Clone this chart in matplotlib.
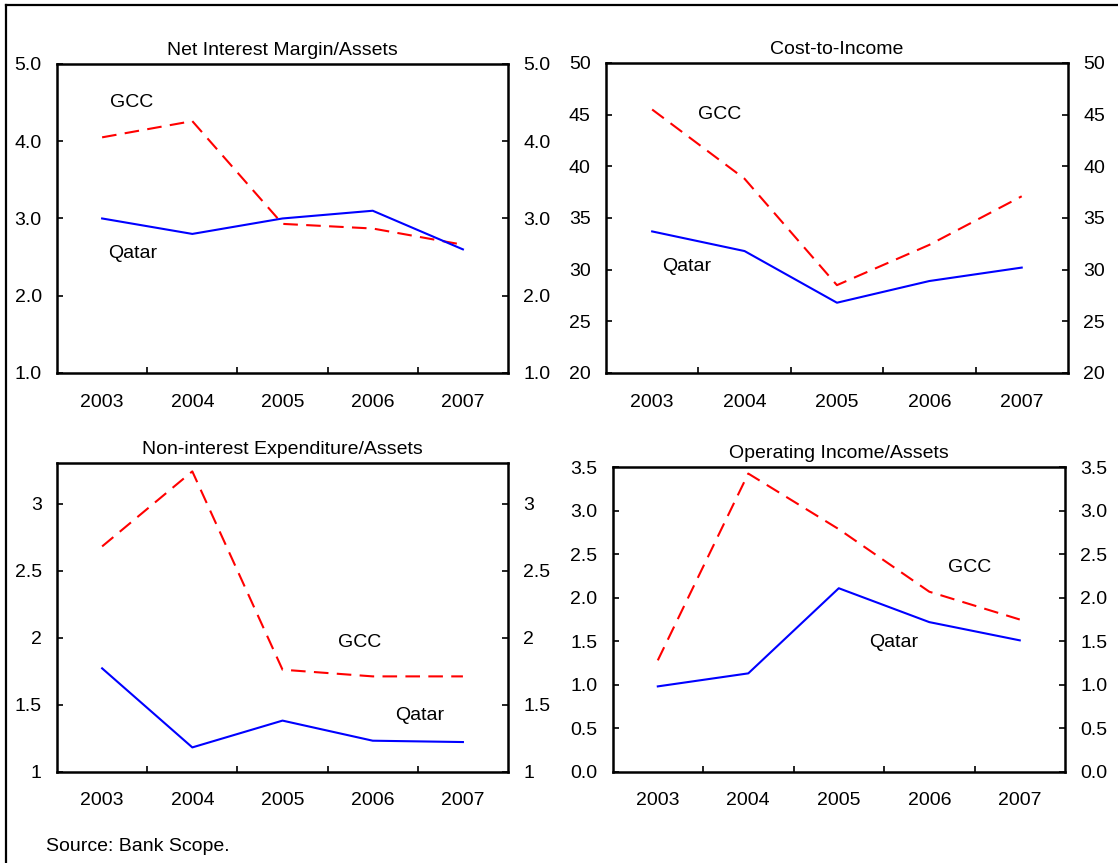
import numpy as np
import matplotlib
matplotlib.use("Agg")
import matplotlib.pyplot as plt
from matplotlib.lines import Line2D

plt.rcParams["font.family"] = ["Liberation Sans", "DejaVu Sans"]
plt.rcParams["font.size"] = 14

years = ["2003", "2004", "2005", "2006", "2007"]

# Net interest margin / assets
nim_gcc = [4.05, 4.26, 2.93, 2.87, 2.66]
nim_qatar = [3.0, 2.8, 3.0, 3.1, 2.6]

# Cost-to-income
cti_gcc = [45.5, 38.8, 28.5, 32.4, 37.1]
cti_qatar = [33.7, 31.8, 26.8, 28.9, 30.2]

# Non-interest expenditure / assets
nie_gcc = [2.68, 3.24, 1.76, 1.71, 1.71]
nie_qatar = [1.77, 1.18, 1.38, 1.23, 1.22]

# Operating income / assets
oi_gcc = [1.28, 3.43, 2.79, 2.07, 1.75]
oi_qatar = [0.98, 1.13, 2.11, 1.72, 1.51]

panels = [
    dict(title="Net Interest Margin/Assets", gcc=nim_gcc, qatar=nim_qatar,
         ylim=(1.0, 5.0), yticks=[1.0, 2.0, 3.0, 4.0, 5.0], fmt="{:.1f}",
         gcc_pos=(0.33, 4.50), qatar_pos=(0.34, 2.55),
         rect=[0.0510, 0.5678, 0.4034, 0.3581]),
    dict(title="Cost-to-Income", gcc=cti_gcc, qatar=cti_qatar,
         ylim=(20, 50), yticks=[20, 25, 30, 35, 40, 45, 50], fmt="{:.0f}",
         gcc_pos=(0.73, 45.0), qatar_pos=(0.37, 30.3),
         rect=[0.5420, 0.5678, 0.4132, 0.3592]),
    dict(title="Non-interest Expenditure/Assets", gcc=nie_gcc, qatar=nie_qatar,
         ylim=(1.0, 3.3), yticks=[1, 1.5, 2, 2.5, 3], fmt="{:g}",
         gcc_pos=(2.85, 1.96), qatar_pos=(3.52, 1.415),
         rect=[0.0510, 0.1060, 0.4034, 0.3571]),
    dict(title="Operating Income/Assets", gcc=oi_gcc, qatar=oi_qatar,
         ylim=(0.0, 3.5), yticks=[0.0, 0.5, 1.0, 1.5, 2.0, 2.5, 3.0, 3.5], fmt="{:.1f}",
         gcc_pos=(3.45, 2.35), qatar_pos=(2.61, 1.49),
         rect=[0.5479, 0.1060, 0.4047, 0.3523]),
]

fig = plt.figure(figsize=(11.18, 8.63), dpi=100)

x = np.arange(len(years))
for p in panels:
    ax = fig.add_axes(p["rect"])
    ax.plot(x, p["gcc"], color="#ff0000", lw=1.5, dashes=(7, 4))
    ax.plot(x, p["qatar"], color="#0000ff", lw=1.5)
    ax.set_xlim(-0.5, len(years) - 0.5)
    ax.set_ylim(*p["ylim"])
    ax.set_xticks(x)
    ax.set_xticklabels(years)
    ax.set_xticks(x[:-1] + 0.5, minor=True)
    ax.tick_params(axis="x", which="major", length=0, pad=15, labelsize=14)
    ax.tick_params(axis="x", which="minor", direction="in", length=4.5, width=1.2)
    ax.set_yticks(p["yticks"])
    ax.set_yticklabels([p["fmt"].format(v) for v in p["yticks"]])
    ax.tick_params(axis="y", direction="in", length=4.5, width=1.2, pad=11,
                   labelsize=14, left=True, right=True, labelleft=True, labelright=True)
    for s in ax.spines.values():
        s.set_linewidth(1.8)
    ax.set_title(p["title"], fontsize=14, pad=6.5)
    ax.text(*p["gcc_pos"], "GCC", ha="center", va="center", fontsize=14)
    ax.text(*p["qatar_pos"], "Qatar", ha="center", va="center", fontsize=14)

fig.text(46 / 1118, 1 - 846 / 863, "Source: Bank Scope.", ha="left", va="center", fontsize=14)

# outer frame (only left and top edges fall inside the image)
bx, by = 5.5 / 1118, 1 - 5.5 / 863
fig.add_artist(Line2D([bx, bx], [0, by], transform=fig.transFigure, color="black", lw=1.6))
fig.add_artist(Line2D([bx, 1], [by, by], transform=fig.transFigure, color="black", lw=1.6))

fig.savefig("out.png", dpi=100)
